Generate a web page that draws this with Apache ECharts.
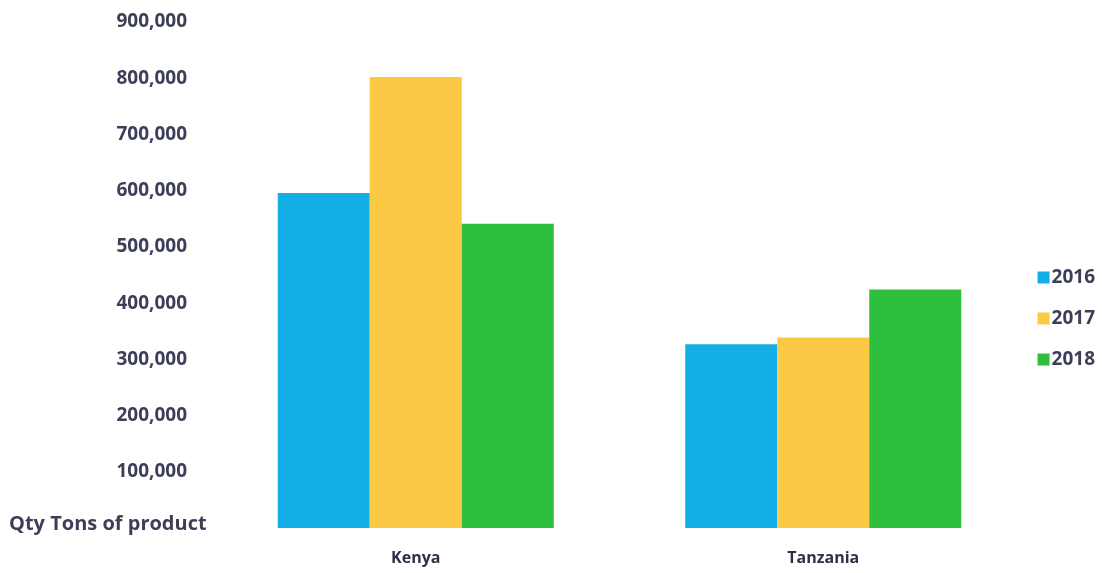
<!DOCTYPE html>
<html>
<head>
<meta charset="utf-8">
<script src="https://cdn.jsdelivr.net/npm/echarts@6/dist/echarts.min.js"></script>
<style>
  html, body { margin: 0; padding: 0; background: #fff; }
  #chart { width: 1102px; height: 573px; }
</style>
</head>
<body>
<div id="chart"></div>
<script>
var countries = ['Kenya', 'Tanzania'];
var years = ['2016', '2017', '2018'];
var qty2016 = [596000, 327000];
var qty2017 = [802000, 339000];
var qty2018 = [541000, 424000];
var yTicks = [0, 100000, 200000, 300000, 400000, 500000, 600000, 700000, 800000, 900000];

var textColor = '#3d3f58';
var colors = ['#14aee6', '#fcc944', '#2dbf3d'];

var myChart = echarts.init(document.getElementById('chart'));

function bar(name, data) {
    return {
        name: name,
        type: 'bar',
        barWidth: 92,
        barGap: '0%',
        data: data
    };
}

var option = {
    color: colors,
    animation: false,
    grid: {
        left: 212,
        right: 75,
        top: 22,
        bottom: 45
    },
    legend: {
        orient: 'vertical',
        right: 2,
        top: 263,
        icon: 'rect',
        itemWidth: 12,
        itemHeight: 12,
        itemGap: 22,
        data: years,
        textStyle: {
            color: textColor,
            fontFamily: 'Open Sans',
            fontWeight: 700,
            fontSize: 19,
            padding: [0, 0, 0, -3]
        }
    },
    xAxis: {
        type: 'category',
        data: countries,
        axisLine: { show: false },
        axisTick: { show: false },
        axisLabel: {
            margin: 22,
            color: '#2e3045',
            fontFamily: 'Open Sans',
            fontWeight: 700,
            fontSize: 16
        }
    },
    yAxis: {
        type: 'value',
        min: yTicks[0],
        max: yTicks[yTicks.length - 1],
        interval: 100000,
        axisLine: { show: false },
        axisTick: { show: false },
        splitLine: { show: false },
        axisLabel: {
            margin: 25,
            color: textColor,
            fontFamily: 'Open Sans',
            fontWeight: 700,
            fontSize: 19,
            formatter: function (v) {
                if (v === 0) return '';
                return v.toLocaleString('en-US');
            }
        }
    },
    graphic: [{
        type: 'text',
        left: 9,
        top: 514,
        style: {
            text: 'Qty Tons of product',
            fill: textColor,
            font: '700 20px "Open Sans"'
        }
    }],
    series: [
        bar(years[0], qty2016),
        bar(years[1], qty2017),
        bar(years[2], qty2018)
    ]
};
myChart.setOption(option);
</script>
</body>
</html>
